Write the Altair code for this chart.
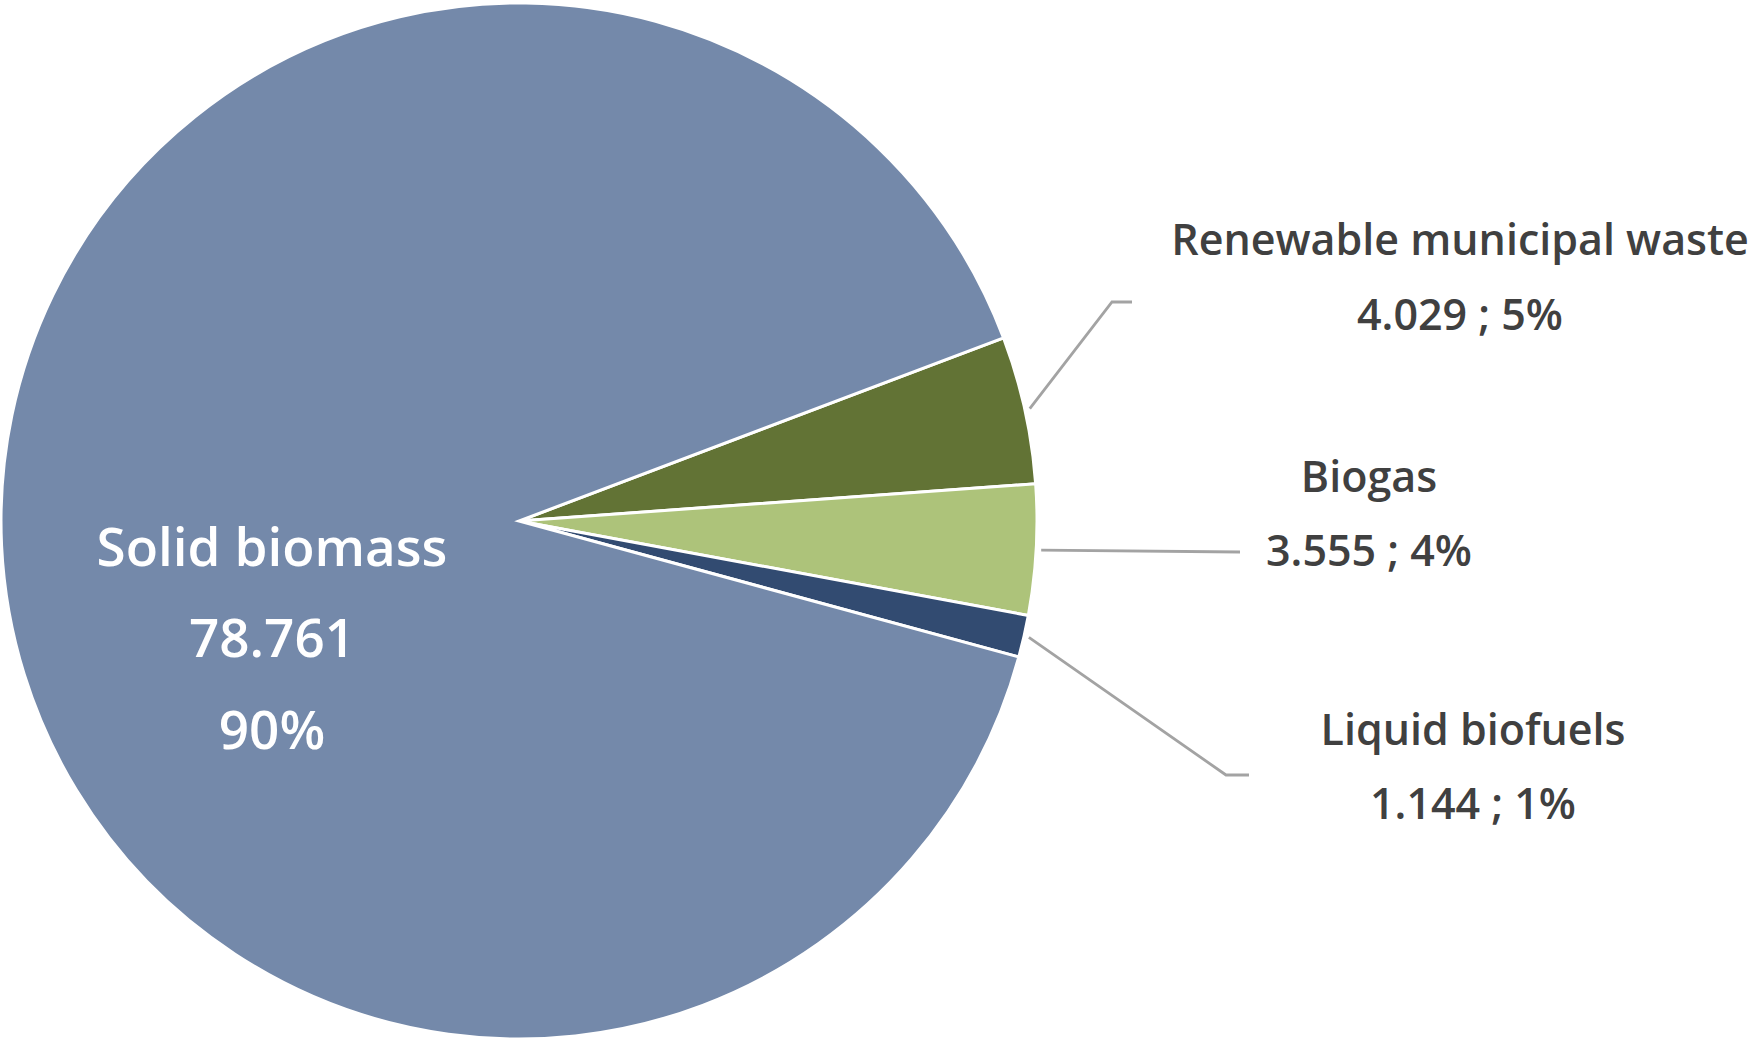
import math
import altair as alt
import pandas as pd

# ---- data ----
categories = ["Renewable municipal waste", "Biogas", "Liquid biofuels", "Solid biomass"]
values = [4.029, 3.555, 1.144, 78.761]
value_labels = ["4.029", "3.555", "1.144", "78.761"]
pct_labels = ["5%", "4%", "1%", "90%"]
colors = ["#627335", "#adc37a", "#324b71", "#7489aa"]

# ---- layout ----
W, H = 1752, 1038
CX, CY, R = 519, 521, 518
START = math.radians(69.3)
FONT = "Open Sans"
TXT = "#404040"

total = sum(values)
df = pd.DataFrame({"cat": categories, "value": values, "ord": list(range(len(categories)))})

arc = alt.Chart(df).mark_arc(radius=R, stroke="white", strokeWidth=3).encode(
    theta=alt.Theta("value:Q", stack=True, scale=alt.Scale(range=[START, START + 2 * math.pi])),
    color=alt.Color("cat:N", scale=alt.Scale(domain=categories, range=colors), legend=None),
    order=alt.Order("ord:Q"),
    x=alt.value(CX),
    y=alt.value(CY),
)

# mid angles from data
mids = []
cum = 0.0
for v in values:
    a = START + (cum + v / 2) / total * 2 * math.pi
    mids.append(a)
    cum += v

def polar(a, r):
    return CX + r * math.sin(a), CY - r * math.cos(a)

# leader lines: start at slice edge (from data angle), then layout elbow/end
elbows = {
    "Renewable municipal waste": [(1112, 302), (1132, 302)],
    "Biogas": [(1240, 552)],
    "Liquid biofuels": [(1226, 775), (1249, 775)],
}
rows = []
for i, c in enumerate(categories[:3]):
    sx, sy = polar(mids[i], R + 5)
    pts = [(sx, sy)] + elbows[c]
    for k, (px, py) in enumerate(pts):
        rows.append({"cat": c, "k": k, "px": px, "py": py})
lines_df = pd.DataFrame(rows)

lines = alt.Chart(lines_df).mark_line(color="#a3a3a3", strokeWidth=2.8).encode(
    x=alt.X("px:Q", scale=None, axis=None),
    y=alt.Y("py:Q", scale=None, axis=None),
    detail="cat:N",
    order="k:Q",
)

# outside labels
label_pos = {
    "Renewable municipal waste": (1460, 255, 330),
    "Biogas": (1369, 492, 566),
    "Liquid biofuels": (1473, 745, 819),
}
trows = []
for i, c in enumerate(categories[:3]):
    x, y1, y2 = label_pos[c]
    trows.append({"t": c, "px": x, "py": y1})
    trows.append({"t": f"{value_labels[i]} ; {pct_labels[i]}", "px": x, "py": y2})
out_df = pd.DataFrame(trows)

out_text = alt.Chart(out_df).mark_text(
    font=FONT, fontSize=43, fontWeight=600, color=TXT, align="center", baseline="alphabetic"
).encode(
    x=alt.X("px:Q", scale=None, axis=None),
    y=alt.Y("py:Q", scale=None, axis=None),
    text="t:N",
)

in_df = pd.DataFrame({
    "t": [categories[3], value_labels[3], pct_labels[3]],
    "px": [272, 272, 272],
    "py": [566, 657, 749],
})
in_text = alt.Chart(in_df).mark_text(
    font=FONT, fontSize=53, fontWeight=600, color="white", align="center", baseline="alphabetic"
).encode(
    x=alt.X("px:Q", scale=None, axis=None),
    y=alt.Y("py:Q", scale=None, axis=None),
    text="t:N",
)

chart = alt.layer(arc, lines, out_text, in_text).properties(
    width=W, height=H, padding=0, autosize=alt.AutoSizeParams(type="none"),
    background="white",
).configure_view(stroke=None)

chart.save("out.html", embed_options={"renderer": "svg", "actions": False})
